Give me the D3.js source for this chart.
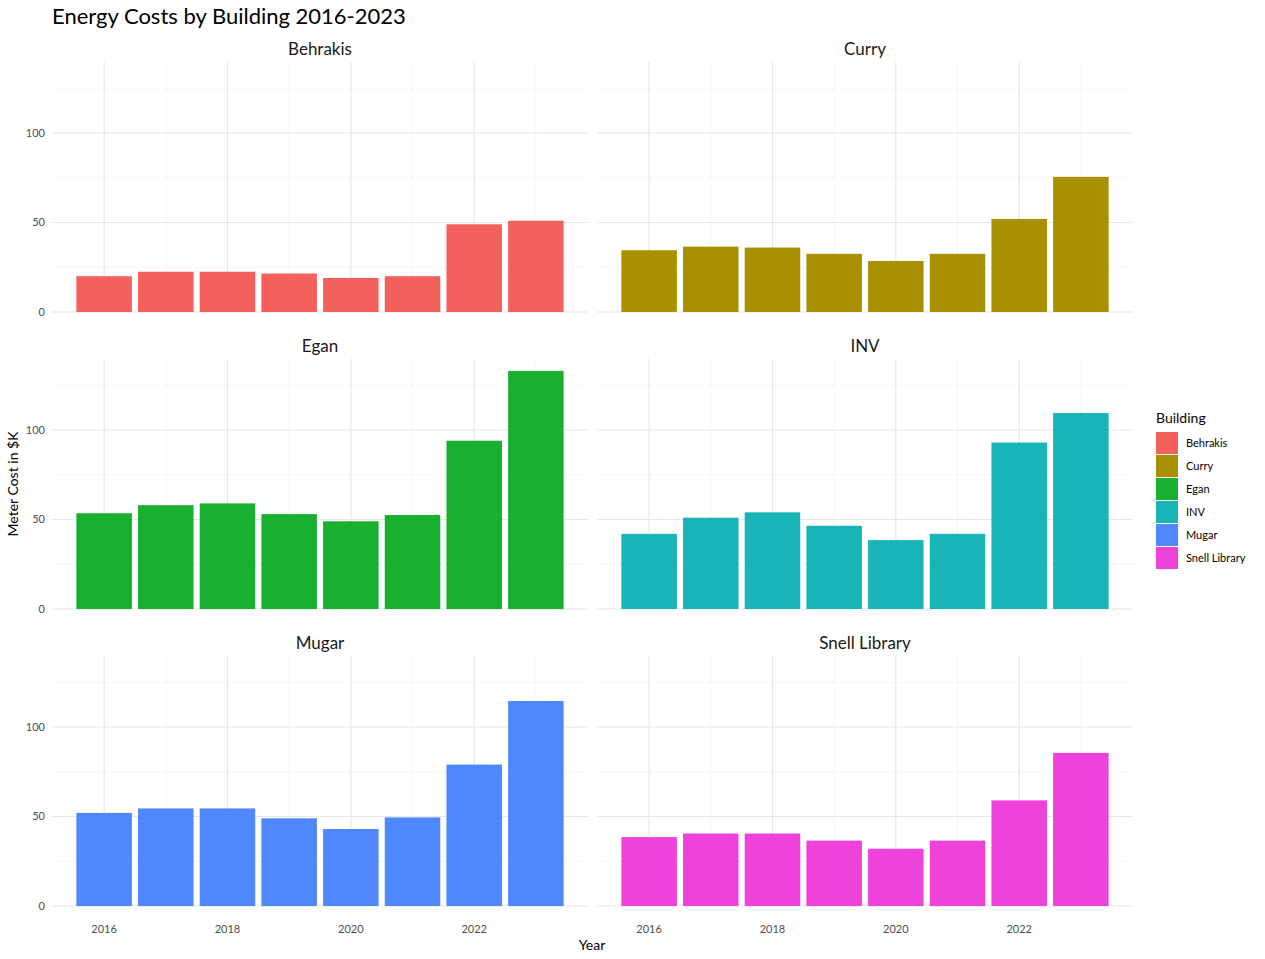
<!DOCTYPE html>
<html><head><meta charset="utf-8">
<script src="https://cdn.jsdelivr.net/npm/d3@7"></script>
<style>body{margin:0;background:#fff}text{font-family:Lato,"Open Sans",sans-serif}</style>
</head><body>
<svg id="chart" width="1265" height="959"></svg>
<script>
const years = [2016, 2017, 2018, 2019, 2020, 2021, 2022, 2023]
const buildings = ['Behrakis', 'Curry', 'Egan', 'INV', 'Mugar', 'Snell Library']
const colors = ['#F4605B', '#A89000', '#19B030', '#19B4B8', '#4F87FF', '#EE42DB']
const behrakis = [20, 22.5, 22.5, 21.5, 19, 20, 49, 51]
const curry = [34.5, 36.5, 36, 32.5, 28.5, 32.5, 52, 75.5]
const egan = [53.5, 58, 59, 53, 49, 52.5, 94, 133]
const inv = [42, 51, 54, 46.5, 38.5, 42, 93, 109.5]
const mugar = [52, 54.5, 54.5, 49, 43, 49.5, 79, 114.5]
const snell = [38.5, 40.5, 40.5, 36.5, 32, 36.5, 59, 85.5]
const values = [behrakis, curry, egan, inv, mugar, snell]
const xTicks = [2016, 2018, 2020, 2022]
const xMinor = [2017, 2019, 2021, 2023]
const yTicks = [0, 50, 100]
const yMinor = [25, 75, 125]

const svg = d3.select('#chart')
const cols = [52, 597], pw = 536
const rows = [62, 359, 656], ph = 250

const x0 = d3.scaleLinear().domain([2015.155, 2023.845]).range([0, pw])
const y0 = d3.scaleLinear().domain([0, 139.65]).range([ph, 0])

svg.append('text').attr('x', 52).attr('y', 24).attr('font-size', 22).attr('fill', '#000')
    .text('Energy Costs by Building 2016-2023')

buildings.forEach((b, i) => {
    const col = i % 2, row = Math.floor(i / 2)
    const g = svg.append('g').attr('transform', `translate(${cols[col]},${rows[row]})`)
    // grid
    g.selectAll('.ymin').data(yMinor).enter().append('line')
        .attr('x1', 0).attr('x2', pw).attr('y1', d => y0(d)).attr('y2', d => y0(d))
        .attr('stroke', '#f0f0f0').attr('stroke-width', 0.6)
    g.selectAll('.xmin').data(xMinor).enter().append('line')
        .attr('y1', 0).attr('y2', ph).attr('x1', d => x0(d)).attr('x2', d => x0(d))
        .attr('stroke', '#f0f0f0').attr('stroke-width', 0.6)
    g.selectAll('.ymaj').data(yTicks).enter().append('line')
        .attr('x1', 0).attr('x2', pw).attr('y1', d => y0(d)).attr('y2', d => y0(d))
        .attr('stroke', '#e6e6e6').attr('stroke-width', 1.2)
    g.selectAll('.xmaj').data(xTicks).enter().append('line')
        .attr('y1', 0).attr('y2', ph).attr('x1', d => x0(d)).attr('x2', d => x0(d))
        .attr('stroke', '#e6e6e6').attr('stroke-width', 1.2)
    // bars
    g.selectAll('rect').data(values[i]).enter().append('rect')
        .attr('x', (d, j) => x0(years[j] - 0.45))
        .attr('width', x0(2016.45) - x0(2015.55))
        .attr('y', d => y0(d)).attr('height', d => y0(0) - y0(d))
        .attr('fill', colors[i])
    // strip
    g.append('text').attr('x', pw / 2).attr('y', -7).attr('text-anchor', 'middle')
        .attr('font-size', 17).attr('fill', '#1a1a1a').text(b)
    if (col === 0) {
        g.selectAll('.yl').data(yTicks).enter().append('text')
            .attr('x', -7).attr('y', d => y0(d) + 4).attr('text-anchor', 'end')
            .attr('font-size', 11).attr('fill', '#4d4d4d').text(d => d)
    }
    if (row === 2) {
        g.selectAll('.xl').data(xTicks).enter().append('text')
            .attr('x', d => x0(d)).attr('y', ph + 27).attr('text-anchor', 'middle')
            .attr('font-size', 11).attr('fill', '#4d4d4d').text(d => d)
    }
})

svg.append('text').attr('x', 592).attr('y', 950).attr('text-anchor', 'middle')
    .attr('font-size', 14).attr('fill', '#000').text('Year')
svg.append('text').attr('transform', 'translate(18,484) rotate(-90)').attr('text-anchor', 'middle')
    .attr('font-size', 14).attr('fill', '#000').text('Meter Cost in $K')

// legend
const legend = svg.append('g').attr('transform', 'translate(1156,410)')
legend.append('text').attr('x', 0).attr('y', 13).attr('font-size', 14).attr('fill', '#000').text('Building')
buildings.forEach((b, i) => {
    const r = legend.append('g').attr('transform', `translate(0,${22 + i * 23})`)
    r.append('rect').attr('width', 22).attr('height', 22).attr('fill', colors[i])
    r.append('text').attr('x', 30).attr('y', 15).attr('font-size', 11).attr('fill', '#000').text(b)
})
</script>
</body></html>
